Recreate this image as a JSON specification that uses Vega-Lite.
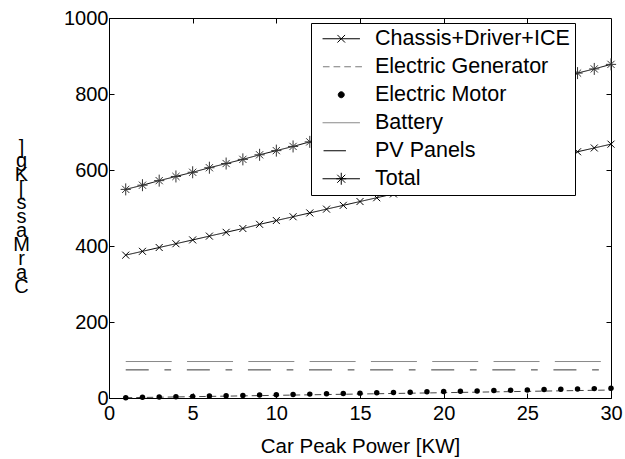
{
  "$schema": "https://vega.github.io/schema/vega-lite/v6.json",
  "width": 502,
  "height": 380,
  "autosize": {"type": "none"},
  "padding": {"left": 109, "top": 18, "right": 14, "bottom": 61},
  "background": "white",
  "config": {
    "font": "Liberation Sans",
    "view": {"stroke": "black", "strokeWidth": 1},
    "axis": {
      "grid": false,
      "domainColor": "black",
      "domainWidth": 1,
      "tickColor": "black",
      "tickWidth": 1,
      "tickSize": -5,
      "labelColor": "black",
      "titleColor": "black",
      "labelFont": "Liberation Sans",
      "titleFont": "Liberation Sans",
      "labelFontSize": 20,
      "titleFontSize": 20.5,
      "titleFontWeight": "normal",
      "labelOverlap": false
    }
  },
  "data": {
    "values": [
      {"kw": 1, "part": "Chassis+Driver+ICE", "kg": 376}, {"kw": 2, "part": "Chassis+Driver+ICE", "kg": 386}, {"kw": 3, "part": "Chassis+Driver+ICE", "kg": 396}, {"kw": 4, "part": "Chassis+Driver+ICE", "kg": 406}, {"kw": 5, "part": "Chassis+Driver+ICE", "kg": 416}, {"kw": 6, "part": "Chassis+Driver+ICE", "kg": 426}, {"kw": 7, "part": "Chassis+Driver+ICE", "kg": 436}, {"kw": 8, "part": "Chassis+Driver+ICE", "kg": 446}, {"kw": 9, "part": "Chassis+Driver+ICE", "kg": 457}, {"kw": 10, "part": "Chassis+Driver+ICE", "kg": 467},
      {"kw": 11, "part": "Chassis+Driver+ICE", "kg": 477}, {"kw": 12, "part": "Chassis+Driver+ICE", "kg": 487}, {"kw": 13, "part": "Chassis+Driver+ICE", "kg": 497}, {"kw": 14, "part": "Chassis+Driver+ICE", "kg": 507}, {"kw": 15, "part": "Chassis+Driver+ICE", "kg": 517}, {"kw": 16, "part": "Chassis+Driver+ICE", "kg": 527}, {"kw": 17, "part": "Chassis+Driver+ICE", "kg": 537}, {"kw": 18, "part": "Chassis+Driver+ICE", "kg": 547}, {"kw": 19, "part": "Chassis+Driver+ICE", "kg": 557}, {"kw": 20, "part": "Chassis+Driver+ICE", "kg": 567},
      {"kw": 21, "part": "Chassis+Driver+ICE", "kg": 577}, {"kw": 22, "part": "Chassis+Driver+ICE", "kg": 587}, {"kw": 23, "part": "Chassis+Driver+ICE", "kg": 598}, {"kw": 24, "part": "Chassis+Driver+ICE", "kg": 608}, {"kw": 25, "part": "Chassis+Driver+ICE", "kg": 618}, {"kw": 26, "part": "Chassis+Driver+ICE", "kg": 628}, {"kw": 27, "part": "Chassis+Driver+ICE", "kg": 638}, {"kw": 28, "part": "Chassis+Driver+ICE", "kg": 648}, {"kw": 29, "part": "Chassis+Driver+ICE", "kg": 658}, {"kw": 30, "part": "Chassis+Driver+ICE", "kg": 668},

      {"kw": 1, "part": "Electric Generator", "kg": 0.7}, {"kw": 2, "part": "Electric Generator", "kg": 1.4}, {"kw": 3, "part": "Electric Generator", "kg": 2.1}, {"kw": 4, "part": "Electric Generator", "kg": 2.8}, {"kw": 5, "part": "Electric Generator", "kg": 3.5}, {"kw": 6, "part": "Electric Generator", "kg": 4.2}, {"kw": 7, "part": "Electric Generator", "kg": 4.9}, {"kw": 8, "part": "Electric Generator", "kg": 5.6}, {"kw": 9, "part": "Electric Generator", "kg": 6.3}, {"kw": 10, "part": "Electric Generator", "kg": 7},
      {"kw": 11, "part": "Electric Generator", "kg": 7.7}, {"kw": 12, "part": "Electric Generator", "kg": 8.4}, {"kw": 13, "part": "Electric Generator", "kg": 9.1}, {"kw": 14, "part": "Electric Generator", "kg": 9.8}, {"kw": 15, "part": "Electric Generator", "kg": 10.5}, {"kw": 16, "part": "Electric Generator", "kg": 11.2}, {"kw": 17, "part": "Electric Generator", "kg": 11.9}, {"kw": 18, "part": "Electric Generator", "kg": 12.6}, {"kw": 19, "part": "Electric Generator", "kg": 13.3}, {"kw": 20, "part": "Electric Generator", "kg": 14},
      {"kw": 21, "part": "Electric Generator", "kg": 14.7}, {"kw": 22, "part": "Electric Generator", "kg": 15.4}, {"kw": 23, "part": "Electric Generator", "kg": 16.1}, {"kw": 24, "part": "Electric Generator", "kg": 16.8}, {"kw": 25, "part": "Electric Generator", "kg": 17.5}, {"kw": 26, "part": "Electric Generator", "kg": 18.2}, {"kw": 27, "part": "Electric Generator", "kg": 18.9}, {"kw": 28, "part": "Electric Generator", "kg": 19.6}, {"kw": 29, "part": "Electric Generator", "kg": 20.3}, {"kw": 30, "part": "Electric Generator", "kg": 21},

      {"kw": 1, "part": "Electric Motor", "kg": 0.9}, {"kw": 2, "part": "Electric Motor", "kg": 1.7}, {"kw": 3, "part": "Electric Motor", "kg": 2.6}, {"kw": 4, "part": "Electric Motor", "kg": 3.4}, {"kw": 5, "part": "Electric Motor", "kg": 4.3}, {"kw": 6, "part": "Electric Motor", "kg": 5.1}, {"kw": 7, "part": "Electric Motor", "kg": 6}, {"kw": 8, "part": "Electric Motor", "kg": 6.8}, {"kw": 9, "part": "Electric Motor", "kg": 7.7}, {"kw": 10, "part": "Electric Motor", "kg": 8.5},
      {"kw": 11, "part": "Electric Motor", "kg": 9.4}, {"kw": 12, "part": "Electric Motor", "kg": 10.2}, {"kw": 13, "part": "Electric Motor", "kg": 11.1}, {"kw": 14, "part": "Electric Motor", "kg": 11.9}, {"kw": 15, "part": "Electric Motor", "kg": 12.8}, {"kw": 16, "part": "Electric Motor", "kg": 13.6}, {"kw": 17, "part": "Electric Motor", "kg": 14.5}, {"kw": 18, "part": "Electric Motor", "kg": 15.3}, {"kw": 19, "part": "Electric Motor", "kg": 16.2}, {"kw": 20, "part": "Electric Motor", "kg": 17},
      {"kw": 21, "part": "Electric Motor", "kg": 17.9}, {"kw": 22, "part": "Electric Motor", "kg": 18.7}, {"kw": 23, "part": "Electric Motor", "kg": 19.6}, {"kw": 24, "part": "Electric Motor", "kg": 20.4}, {"kw": 25, "part": "Electric Motor", "kg": 21.3}, {"kw": 26, "part": "Electric Motor", "kg": 22.1}, {"kw": 27, "part": "Electric Motor", "kg": 23}, {"kw": 28, "part": "Electric Motor", "kg": 23.8}, {"kw": 29, "part": "Electric Motor", "kg": 24.7}, {"kw": 30, "part": "Electric Motor", "kg": 25.5},

      {"kw": 1, "part": "Battery", "kg": 96}, {"kw": 30, "part": "Battery", "kg": 96},
      {"kw": 1, "part": "PV Panels", "kg": 74}, {"kw": 30, "part": "PV Panels", "kg": 74},

      {"kw": 1, "part": "Total", "kg": 549}, {"kw": 2, "part": "Total", "kg": 560}, {"kw": 3, "part": "Total", "kg": 572}, {"kw": 4, "part": "Total", "kg": 583}, {"kw": 5, "part": "Total", "kg": 594}, {"kw": 6, "part": "Total", "kg": 606}, {"kw": 7, "part": "Total", "kg": 617}, {"kw": 8, "part": "Total", "kg": 628}, {"kw": 9, "part": "Total", "kg": 640}, {"kw": 10, "part": "Total", "kg": 651},
      {"kw": 11, "part": "Total", "kg": 662}, {"kw": 12, "part": "Total", "kg": 674}, {"kw": 13, "part": "Total", "kg": 685}, {"kw": 14, "part": "Total", "kg": 696}, {"kw": 15, "part": "Total", "kg": 708}, {"kw": 16, "part": "Total", "kg": 719}, {"kw": 17, "part": "Total", "kg": 730}, {"kw": 18, "part": "Total", "kg": 742}, {"kw": 19, "part": "Total", "kg": 753}, {"kw": 20, "part": "Total", "kg": 764},
      {"kw": 21, "part": "Total", "kg": 776}, {"kw": 22, "part": "Total", "kg": 787}, {"kw": 23, "part": "Total", "kg": 798}, {"kw": 24, "part": "Total", "kg": 810}, {"kw": 25, "part": "Total", "kg": 821}, {"kw": 26, "part": "Total", "kg": 832}, {"kw": 27, "part": "Total", "kg": 844}, {"kw": 28, "part": "Total", "kg": 855}, {"kw": 29, "part": "Total", "kg": 866}, {"kw": 30, "part": "Total", "kg": 878}
    ]
  },
  "resolve": {"axis": {"x": "independent", "y": "independent"}},
  "layer": [
    {
      "transform": [{"filter": "datum.part != 'Electric Motor'"}],
      "mark": {"type": "line", "strokeWidth": 1},
      "encoding": {
        "x": {
          "field": "kw", "type": "quantitative",
          "scale": {"domain": [0, 30], "nice": false},
          "axis": {
            "values": [0, 5, 10, 15, 20, 25, 30],
            "labelFlush": false,
            "labelPadding": 10,
            "title": "Car Peak Power [KW]",
            "titleBaseline": "alphabetic",
            "titleX": 251,
            "titleY": 54
          }
        },
        "y": {
          "field": "kg", "type": "quantitative",
          "scale": {"domain": [0, 1000], "nice": false},
          "axis": {
            "values": [0, 200, 400, 600, 800, 1000],
            "format": "d",
            "labelPadding": 6,
            "title": ["]", "g", "K", "[", "s", "s", "a", "M", "r", "a", "C"],
            "titleAngle": 0,
            "titleAlign": "center",
            "titleBaseline": "top",
            "titleFontSize": 20,
            "titleLineHeight": 13.9,
            "titleX": -88,
            "titleY": 119
          }
        },
        "color": {
          "field": "part", "type": "nominal",
          "scale": {
            "domain": ["Chassis+Driver+ICE", "Electric Generator", "Battery", "PV Panels", "Total"],
            "range": ["#000000", "#444444", "#8a8a8a", "#383838", "#000000"]
          },
          "legend": null
        },
        "strokeDash": {
          "field": "part", "type": "nominal",
          "scale": {
            "domain": ["Chassis+Driver+ICE", "Electric Generator", "Battery", "PV Panels", "Total"],
            "range": [[1, 0], [6.5, 4], [46, 15.3], [23, 15.7, 6.7, 15.7], [1, 0]]
          },
          "legend": null
        }
      }
    },
    {
      "transform": [{"filter": "datum.part == 'Chassis+Driver+ICE'"}],
      "mark": {"type": "point", "shape": "M-1,-1L1,1M-1,1L1,-1", "size": 49, "stroke": "black", "strokeWidth": 1, "filled": false, "opacity": 1},
      "encoding": {
        "x": {"field": "kw", "type": "quantitative", "axis": null},
        "y": {"field": "kg", "type": "quantitative", "axis": null}
      }
    },
    {
      "transform": [{"filter": "datum.part == 'Electric Motor'"}],
      "mark": {"type": "circle", "size": 30, "color": "black", "opacity": 1},
      "encoding": {
        "x": {"field": "kw", "type": "quantitative", "axis": null},
        "y": {"field": "kg", "type": "quantitative", "axis": null}
      }
    },
    {
      "transform": [{"filter": "datum.part == 'Total'"}],
      "mark": {"type": "point", "shape": "M0,-1V1M-0.85,0H0.85M-0.6,-0.6L0.6,0.6M-0.6,0.6L0.6,-0.6", "size": 144, "stroke": "#333333", "strokeWidth": 1, "filled": false, "opacity": 1},
      "encoding": {
        "x": {"field": "kw", "type": "quantitative", "axis": null},
        "y": {"field": "kg", "type": "quantitative", "axis": null}
      }
    },
    {
      "transform": [{"filter": "datum.kw == 1"}],
      "mark": {"type": "point", "opacity": 0, "fill": "black", "strokeWidth": 1},
      "encoding": {
        "x": {
          "field": "kw", "type": "quantitative",
          "axis": {"orient": "top", "values": [5, 10, 15, 20, 25], "labels": false, "domain": false, "title": null}
        },
        "y": {
          "field": "kg", "type": "quantitative",
          "axis": {"orient": "right", "values": [200, 400, 600, 800], "labels": false, "domain": false, "title": null}
        },
        "stroke": {
          "field": "part", "type": "nominal",
          "scale": {
            "domain": ["Chassis+Driver+ICE", "Electric Generator", "Electric Motor", "Battery", "PV Panels", "Total"],
            "range": ["#000000", "#7a7a7a", "#000000", "#8a8a8a", "#000000", "#000000"]
          },
          "legend": {
            "title": null, "orient": "none", "legendX": 202, "legendY": 5,
            "fillColor": "white", "strokeColor": "black", "padding": 5,
            "labelFont": "Liberation Sans", "labelFontSize": 21.5, "labelColor": "black", "labelLimit": 400,
            "symbolSize": 400, "symbolStrokeWidth": 1, "symbolOpacity": 1, "symbolFillColor": "black",
            "symbolOffset": 14.5, "labelOffset": 23, "rowPadding": 5
          }
        },
        "shape": {
          "field": "part", "type": "nominal",
          "scale": {
            "domain": ["Chassis+Driver+ICE", "Electric Generator", "Electric Motor", "Battery", "PV Panels", "Total"],
            "range": [
              "M-1.87,0H1.87M-0.38,-0.38L0.38,0.38M-0.38,0.38L0.38,-0.38",
              "M-1.83,0H-1.17M-0.77,0H-0.1M0.3,0H0.97M1.4,0H2.07",
              "M-0.3,0A0.3,0.3 0 1,0 0.3,0A0.3,0.3 0 1,0 -0.3,0Z",
              "M-1.87,0H1.87",
              "M-1.77,0H0.47",
              "M-1.87,0H1.87M0,-0.6V0.6M-0.5,0H0.5M-0.4,-0.4L0.4,0.4M-0.4,0.4L0.4,-0.4"
            ]
          },
          "legend": {
            "title": null, "orient": "none", "legendX": 202, "legendY": 5,
            "fillColor": "white", "strokeColor": "black", "padding": 5,
            "labelFont": "Liberation Sans", "labelFontSize": 21.5, "labelColor": "black", "labelLimit": 400,
            "symbolSize": 400, "symbolStrokeWidth": 1, "symbolOpacity": 1, "symbolFillColor": "black",
            "symbolOffset": 14.5, "labelOffset": 23, "rowPadding": 5
          }
        }
      }
    }
  ]
}
